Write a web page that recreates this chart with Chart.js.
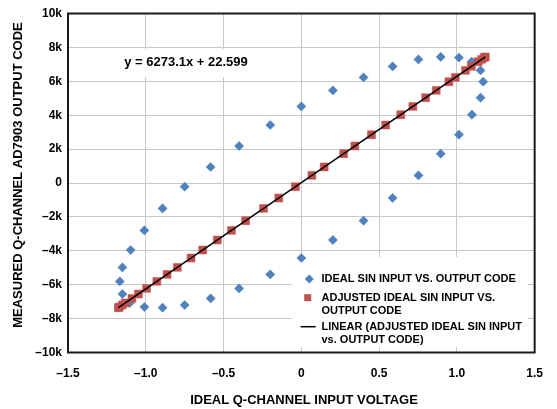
<!DOCTYPE html>
<html>
<head>
<meta charset="utf-8">
<script src="https://cdn.jsdelivr.net/npm/chart.js@4.4.1/dist/chart.umd.min.js"></script>
<style>
  html, body { margin: 0; padding: 0; background: #fff; }
  #wrap { width: 557px; height: 409px; position: relative; }
</style>
</head>
<body>
<div id="wrap"><canvas id="c" width="557" height="409"></canvas></div>
<script>
// ---- data ----
const idealX = [0, 0.203, 0.40, 0.587, 0.753, 0.896, 1.013, 1.095, 1.152, 1.169, 1.152, 1.097, 1.013, 0.896, 0.753, 0.587, 0.40, 0.203,
                0, -0.20, -0.40, -0.583, -0.75, -0.892, -1.009, -1.103, -1.15, -1.167, -1.15, -1.097, -1.009, -0.892, -0.75, -0.583, -0.40, -0.20];
const idealY = [4519, 5463, 6230, 6879, 7292, 7440, 7400, 7156, 6643, 5976, 5032, 4029, 2850, 1729, 448, -885, -2224, -3363,
                -4425, -5392, -6218, -6808, -7198, -7357, -7316, -7080, -6549, -5805, -4979, -3953, -2796, -1499, -218, 944, 2183, 3422];
const adjustedX = [0.717, 0.867, 0.990, 1.093, 1.159, 1.183, 1.176, 1.137, 1.055, 0.949, 0.799, 0.639, 0.451, 0.272, 0.068, -0.145, -0.358, -0.540,
                   -0.709, -0.863, -0.995, -1.089, -1.151, -1.176, -1.170, -1.132, -1.047, -0.929, -0.797, -0.634, -0.449, -0.243, -0.038, 0.147, 0.344, 0.542];
const adjustedY = idealY.slice();
const trendX = [-1.176, 1.183];
const trendY = [-7355, 7444];
const equationText = 'y = 6273.1x + 22.599';
const xTickLabels = ['\u20131.5', '\u20131.0', '\u20130.5', '0', '0.5', '1.0', '1.5'];
const yTickLabels = ['\u201310k', '\u20138k', '\u20136k', '\u20134k', '\u20132k', '0', '2k', '4k', '6k', '8k', '10k'];
const xTitle = 'IDEAL Q-CHANNEL INPUT VOLTAGE';
const yTitle = 'MEASURED Q-CHANNEL AD7903 OUTPUT CODE';
const legendLabels = [
  ['IDEAL SIN INPUT VS. OUTPUT CODE'],
  ['ADJUSTED IDEAL SIN INPUT VS.', 'OUTPUT CODE'],
  ['LINEAR (ADJUSTED IDEAL SIN INPUT', 'vs. OUTPUT CODE)']
];

const BLUE = '#4F81BD';
const RED = '#C0504D';
const FONT = "'Liberation Sans', Arial, Helvetica, sans-serif";

const zip = (xs, ys) => xs.map((x, i) => ({ x: x, y: ys[i] }));

const decor = {
  id: 'decor',
  beforeDatasetsDraw(chart) {
    const ctx = chart.ctx;
    ctx.save();
    ctx.fillStyle = '#fff';
    // equation background
    ctx.fillRect(118, 49, 137, 28);
    // legend background
    ctx.fillRect(292, 257, 236, 90);
    ctx.restore();
  },
  afterDraw(chart) {
    const ctx = chart.ctx;
    const a = chart.chartArea;
    ctx.save();
    // plot frame
    ctx.strokeStyle = '#1a1a1a';
    ctx.lineWidth = 2;
    ctx.strokeRect(a.left, a.top, a.right - a.left, a.bottom - a.top);

    ctx.fillStyle = '#000';
    // equation
    ctx.font = 'bold 13px ' + FONT;
    ctx.textAlign = 'center';
    ctx.textBaseline = 'middle';
    ctx.fillText(equationText, 186, 62);

    // axis titles
    ctx.fillText(xTitle, 304, 400);
    ctx.save();
    ctx.translate(18.5, 175);
    ctx.rotate(-Math.PI / 2);
    ctx.fillText(yTitle, 0, 0);
    ctx.restore();

    // legend
    ctx.font = 'bold 11px ' + FONT;
    ctx.textAlign = 'left';
    const tx = 321.5;
    // diamond
    ctx.fillStyle = BLUE;
    ctx.beginPath();
    ctx.moveTo(309.3, 274.5); ctx.lineTo(313.8, 279); ctx.lineTo(309.3, 283.5); ctx.lineTo(304.8, 279);
    ctx.closePath(); ctx.fill();
    ctx.fillStyle = '#000';
    ctx.fillText(legendLabels[0][0], tx, 279);
    // square
    ctx.fillStyle = RED;
    ctx.fillRect(304.2, 294.2, 7, 7);
    ctx.fillStyle = '#000';
    ctx.fillText(legendLabels[1][0], tx, 298);
    ctx.fillText(legendLabels[1][1], tx, 311);
    // line
    ctx.strokeStyle = '#000';
    ctx.lineWidth = 1.5;
    ctx.beginPath(); ctx.moveTo(300.7, 326.7); ctx.lineTo(315.7, 326.7); ctx.stroke();
    ctx.fillText(legendLabels[2][0], tx, 327);
    ctx.fillText(legendLabels[2][1], tx, 340);
    ctx.restore();
  }
};

new Chart(document.getElementById('c'), {
  type: 'scatter',
  data: {
    datasets: [
      {
        label: 'trend',
        type: 'line',
        data: zip(trendX, trendY),
        borderColor: '#000',
        borderWidth: 1.5,
        pointRadius: 0,
        showLine: true,
        fill: false,
        order: 0
      },
      {
        label: 'adjusted',
        data: zip(adjustedX, adjustedY),
        pointStyle: 'rect',
        pointRadius: 5.6,
        backgroundColor: RED,
        borderColor: RED,
        borderWidth: 0.5,
        order: 1
      },
      {
        label: 'ideal',
        data: zip(idealX, idealY),
        pointStyle: 'rectRot',
        pointRadius: 4.6,
        backgroundColor: BLUE,
        borderColor: BLUE,
        borderWidth: 0.5,
        order: 2
      }
    ]
  },
  options: {
    responsive: false,
    animation: false,
    events: [],
    layout: { padding: { left: 0, top: 13.5, right: 20, bottom: 0 } },
    plugins: { legend: { display: false }, tooltip: { enabled: false }, title: { display: false } },
    scales: {
      x: {
        type: 'linear',
        min: -1.5, max: 1.5,
        afterFit: s => { s.height = 56.5; },
        grid: { color: '#c8c8c8', lineWidth: 1, drawTicks: false },
        border: { display: false },
        ticks: {
          stepSize: 0.5,
          padding: 14,
          color: '#000',
          font: { family: FONT, size: 12, weight: 'bold' },
          maxRotation: 0,
          autoSkip: false,
          callback: (v, i) => xTickLabels[i]
        }
      },
      y: {
        type: 'linear',
        min: -10000, max: 10000,
        afterFit: s => { s.width = 68; },
        grid: { color: '#c8c8c8', lineWidth: 1, drawTicks: false },
        border: { display: false },
        ticks: {
          stepSize: 2000,
          padding: 6,
          color: '#000',
          font: { family: FONT, size: 12, weight: 'bold' },
          autoSkip: false,
          callback: (v, i) => yTickLabels[i]
        }
      }
    }
  },
  plugins: [decor]
});
</script>
</body>
</html>
